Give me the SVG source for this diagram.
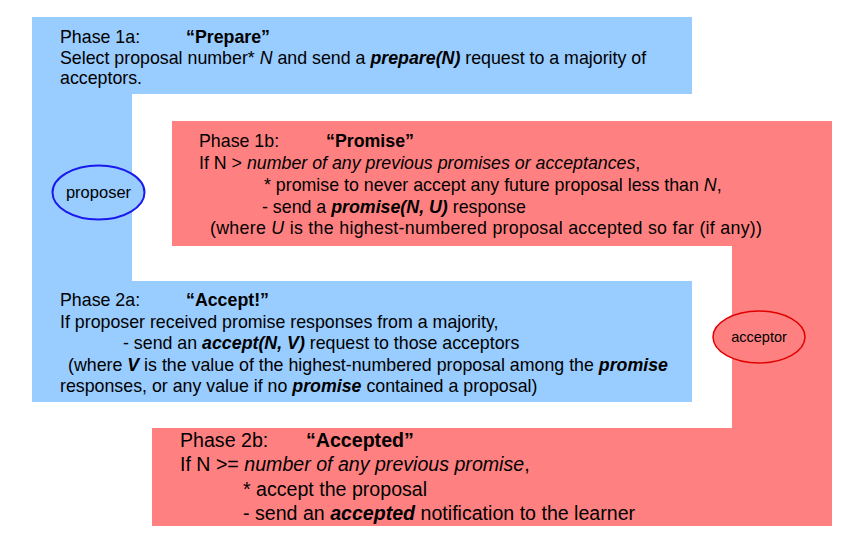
<svg xmlns="http://www.w3.org/2000/svg" width="842" height="544" viewBox="0 0 842 544">
<style>
  text { font-family: "Liberation Sans", Arial, sans-serif; font-size: 17.8px; fill: #000; }
  .b { font-weight: bold; }
  .i { font-style: italic; }
  .bi { font-weight: bold; font-style: italic; }
  .big { font-size: 19.6px; }
  .lane-p { fill: #99CCFF; }
  .lane-a { fill: #FF8080; }
</style>
<rect width="842" height="544" fill="#fff"/>
<g id="proposer-lane">
  <path class="lane-p" d="M32,17 H692 V94 H132 V281 H692 V402 H32 Z"/>
</g>
<g id="acceptor-lane">
  <path class="lane-a" d="M172,121 H832 V526 H152 V428 H732 V246 H172 Z"/>
</g>
<g id="phase1a">
  <text x="60" y="43">Phase 1a:</text>
  <text x="186" y="43" class="b">“Prepare”</text>
  <text x="60" y="64">Select proposal number* <tspan class="i">N</tspan> and send a <tspan class="bi">prepare(N)</tspan> request to a majority of</text>
  <text x="60" y="84">acceptors.</text>
</g>
<g id="phase1b">
  <text x="199" y="147">Phase 1b:</text>
  <text x="326" y="147" class="b">“Promise”</text>
  <text x="199" y="169">If N &gt; <tspan class="i">number of any previous promises or acceptances</tspan>,</text>
  <text x="264" y="191">* promise to never accept any future proposal less than <tspan class="i">N</tspan>,</text>
  <text x="262" y="213">- send a <tspan class="bi">promise(N, U)</tspan> response</text>
  <text x="210" y="234" textLength="552" lengthAdjust="spacing">(where <tspan class="i">U</tspan> is the highest-numbered proposal accepted so far (if any))</text>
</g>
<g id="phase2a">
  <text x="60" y="306">Phase 2a:</text>
  <text x="186" y="306" class="b">“Accept!”</text>
  <text x="60" y="328">If proposer received promise responses from a majority,</text>
  <text x="123" y="349">- send an <tspan class="bi">accept(N, V)</tspan> request to those acceptors</text>
  <text x="68" y="371">(where <tspan class="bi">V</tspan> is the value of the highest-numbered proposal among the <tspan class="bi">promise</tspan></text>
  <text x="60" y="392">responses, or any value if no <tspan class="bi">promise</tspan> contained a proposal)</text>
</g>
<g id="phase2b">
  <text x="180" y="447" class="big">Phase 2b:</text>
  <text x="306" y="447" class="big b">“Accepted”</text>
  <text x="180" y="471" class="big">If N &gt;= <tspan class="i">number of any previous promise</tspan>,</text>
  <text x="243" y="496" class="big">* accept the proposal</text>
  <text x="243" y="520" class="big">- send an <tspan class="bi">accepted</tspan> notification to the learner</text>
</g>
<g id="proposer">
  <ellipse cx="98.5" cy="192.5" rx="46" ry="27" fill="#99CCFF" stroke="#1a1aee" stroke-width="2"/>
  <text x="98.5" y="198" text-anchor="middle" style="font-size:16.5px">proposer</text>
</g>
<g id="acceptor">
  <ellipse cx="759" cy="337" rx="46" ry="26" fill="#FF8080" stroke="#e00000" stroke-width="1.5"/>
  <text x="759" y="342" text-anchor="middle" style="font-size:14.5px">acceptor</text>
</g>
</svg>
